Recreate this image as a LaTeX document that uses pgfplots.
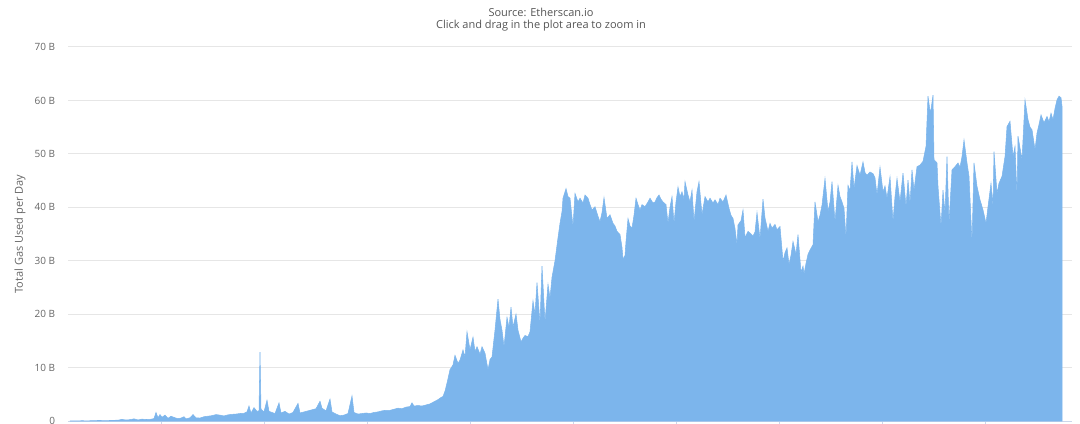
\documentclass[border=0pt]{standalone}
\usepackage{pgfplots}
\pgfplotsset{compat=1.18}
\usepackage{fontspec}
\setmainfont{Open Sans}
\definecolor{hcblue}{HTML}{7CB5EC}
\definecolor{gridc}{HTML}{E6E6E6}
\definecolor{axc}{HTML}{CCD6EB}
\definecolor{txt}{HTML}{666666}
\definecolor{ttl}{HTML}{555555}
\begin{document}
\begin{tikzpicture}
\useasboundingbox (-51pt,-2.25pt) rectangle (759pt,315.75pt);
\begin{axis}[
  at={(0pt,0pt)}, anchor=south west,
  scale only axis, width=753pt, height=280.5pt,
  xmin=68, xmax=1072, ymin=0, ymax=70,
  axis x line*=bottom, axis y line*=left,
  x axis line style={draw=axc, line width=0.75pt, -},
  y axis line style={draw=none},
  ytick={0,10,20,30,40,50,60,70},
  yticklabels={0,10 B,20 B,30 B,40 B,50 B,60 B,70 B},
  ymajorgrids, grid style={draw=gridc, line width=0.75pt},
  ytick style={draw=none},
  xtick={161,264,367,470,573,676,779,882,985}, xticklabels={},
  xtick style={draw=axc, line width=0.75pt},
  tick align=outside, major tick length=7.5pt,
  yticklabel style={font=\fontsize{7.5}{9}\selectfont, color=txt, anchor=east, inner sep=0pt, xshift=-2pt},
  ylabel={Total Gas Used per Day},
  ylabel style={at={(axis description cs:-0.0478,0.5)}, anchor=center, font=\fontsize{8.25}{10}\selectfont, color=txt},
  clip=false,
]
\addplot[fill=hcblue, draw=hcblue, line width=0.4pt] coordinates {
(70,0) (76,0.02) (82,0.05) (88,0.03) (94,0.08) (100,0.1) (106,0.06) (112,0.12) (118,0.15) (122,0.3)
(126,0.18) (130,0.25) (134,0.4) (138,0.2) (142,0.35) (146,0.28) (150,0.3) (154,0.45) (156,1.6) (158,0.6)
(160,1.2) (162,0.7) (165,1.1) (168,0.5) (171,0.9) (175,0.6) (178,0.45) (181,0.55) (184,0.8) (186,0.4)
(190,0.6) (193,1.2) (196,0.6) (200,0.55) (204,0.8) (208,0.9) (212,1.0) (216,1.2) (220,1.1) (224,0.95)
(228,1.15) (232,1.25) (236,1.3) (240,1.4) (244,1.45) (247,1.7) (249,2.8) (251,1.5) (254,2.5) (257,1.8)
(259,1.9) (260,12.9) (261,2.2) (264,1.7) (267,3.9) (269,1.8) (272,1.6) (275,1.4) (279,3.4) (281,1.5)
(285,1.8) (289,1.3) (293,1.6) (298,3.3) (300,1.5) (304,1.7) (308,1.9) (312,2.1) (316,2.3) (320,3.7)
(322,2.4) (326,1.9) (330,4.1) (332,1.7) (336,1.3) (340,1.0) (344,1.1) (348,1.4) (352,4.7) (354,1.6)
(358,1.3) (362,1.4) (366,1.5) (370,1.4) (374,1.6) (378,1.7) (382,1.9) (386,2.0) (390,2.0) (394,2.2)
(398,2.4) (402,2.3) (406,2.6) (410,2.7) (412,3.4) (414,2.8) (418,2.9) (422,2.8) (426,3.0) (430,3.2)
(434,3.6) (438,4.0) (441,4.4) (443,4.6) (445,5.6) (447,7.1) (450,9.6) (453,10.5) (455,12.3) (458,10.8)
(460,11.4) (463,13.3) (465,12.0) (467,16.7) (470,13.3) (473,15.7) (475,13.0) (477,13.9) (480,12.5) (482,13.9)
(485,12.7) (488,9.6) (490,11.5) (492,12.0) (495,17.0) (498,22.8) (500,19.0) (502,17.0) (504,13.9) (507,19.4)
(509,17.5) (511,21.3) (513,17.6) (516,20.0) (518,17.0) (521,14.8) (523,15.5) (525,16.0) (528,15.8) (530,16.7)
(533,22.5) (535,20.0) (537,25.9) (540,18.2) (542,29.0) (545,18.5) (548,25.6) (550,23.0) (552,26.9) (555,30.0)
(558,34.3) (560,37.0) (562,39.2) (563,41.7) (566,43.5) (568,42.0) (570,41.7) (573,36.4) (575,42.6) (578,41.0)
(580,41.7) (583,40.8) (585,42.3) (588,41.7) (590,40.5) (592,39.5) (595,40.1) (598,38.3) (600,37.3) (602,39.0)
(604,41.8) (607,37.9) (610,38.6) (613,37.0) (615,36.5) (617,35.5) (620,34.9) (622,32.5) (623,30.2) (625,31.0)
(626,33.6) (628,37.9) (630,36.5) (632,36.1) (634,38.5) (636,41.7) (638,40.5) (640,39.5) (642,40.5) (645,40.1)
(648,41.0) (650,41.7) (653,40.8) (655,41.0) (657,41.8) (659,42.3) (661,41.5) (663,41.0) (666,40.5) (668,37.0)
(670,40.0) (672,42.0) (674,37.0) (676,41.0) (678,43.8) (680,42.0) (682,42.9) (684,41.5) (685,44.8) (688,42.3)
(690,41.0) (692,43.2) (694,37.3) (697,42.9) (699,44.8) (702,38.6) (705,42.0) (708,41.0) (710,41.7) (713,40.8)
(715,41.4) (718,40.5) (720,41.7) (723,41.0) (726,42.3) (729,39.8) (731,38.5) (733,37.9) (735,36.0) (737,33.0)
(738,36.7) (741,37.5) (743,39.5) (745,34.3) (748,35.5) (751,35.0) (753,34.6) (755,35.4) (757,39.0) (760,34.1)
(763,41.5) (765,38.0) (768,35.5) (770,37.0) (772,36.1) (775,36.8) (777,35.8) (780,36.4) (783,29.9) (785,31.5)
(787,32.4) (789,29.3) (791,31.0) (793,33.6) (796,31.2) (798,34.9) (801,27.8) (803,29.0) (804,27.5) (806,29.5)
(808,31.2) (810,32.0) (813,33.0) (815,41.0) (818,37.3) (820,38.5) (822,40.4) (825,45.4) (828,39.2) (830,41.0)
(832,44.8) (835,37.3) (838,44.1) (840,42.0) (842,41.0) (844,39.8) (846,34.3) (848,44.1) (850,43.0) (852,48.5)
(854,43.5) (857,47.8) (860,46.0) (863,48.5) (865,46.5) (867,46.0) (870,46.6) (873,46.3) (875,45.5) (877,42.3)
(880,47.5) (883,42.9) (885,44.0) (887,41.7) (890,45.7) (893,37.3) (895,42.0) (897,45.4) (900,41.0) (903,46.4)
(906,40.1) (908,45.1) (910,40.7) (912,47.0) (914,43.2) (917,47.6) (920,47.9) (923,48.6) (926,51.4) (928,60.8)
(930,58.0) (931,58.3) (933,61.0) (934,48.9) (937,48.3) (938,43.9) (941,36.4) (943,43.2) (945,38.9) (947,49.5)
(949,37.0) (952,47.0) (955,47.6) (958,48.3) (960,47.5) (962,49.5) (964,52.6) (967,48.3) (969,45.8) (972,33.3)
(974,48.3) (977,43.9) (980,41.4) (983,39.5) (986,37.0) (988,40.1) (991,44.5) (993,40.1) (994,50.4) (997,42.6)
(999,44.5) (1002,45.8) (1005,49.5) (1007,55.1) (1010,56.1) (1013,49.5) (1015,51.4) (1017,42.0) (1018,53.3) (1022,48.9)
(1025,60.1) (1028,56.4) (1030,55.0) (1032,54.5) (1035,50.8) (1037,53.9) (1039,55.5) (1041,57.3) (1044,55.8) (1047,57.0)
(1049,56.0) (1051,57.6) (1053,56.4) (1055,58.5) (1057,60.1) (1059,60.8) (1061,60.5) (1062,58.9)
} \closedcycle;
\end{axis}
\node[font=\fontsize{8.25}{10}\selectfont, color=ttl, inner sep=0pt] at (354.75pt,306.75pt) {Source: Etherscan.io};
\node[font=\fontsize{8.25}{10}\selectfont, color=ttl, inner sep=0pt] at (354.75pt,296.25pt) {Click and drag in the plot area to zoom in};
\end{tikzpicture}
\end{document}
